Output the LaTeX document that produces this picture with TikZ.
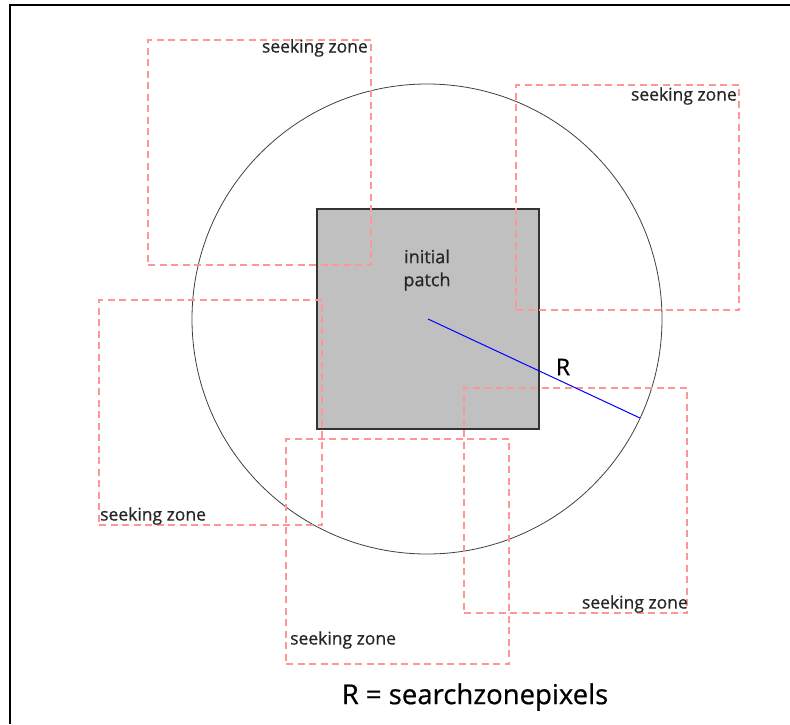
\documentclass[tikz,border=0pt]{standalone}
\usepackage{fontspec}
\setmainfont[FakeBold=0.6]{Open Sans}
\begin{document}
\begin{tikzpicture}[x=1pt,y=-1pt,
  zone/.style={draw=zonered, dash pattern=on 7pt off 4.5pt, line width=1.15pt,
    inner sep=0pt, outer sep=0pt, anchor=north west,
    minimum width=223pt, minimum height=225pt},
  zonelabel/.style={font=\fontsize{17.5}{20}\selectfont, text=black!85, inner sep=0pt},
  patch/.style={draw=black!80, fill=patchgray, line width=1.8pt,
    inner sep=0pt, outer sep=0pt, anchor=north west,
    minimum width=222pt, minimum height=220pt}]
\definecolor{zonered}{RGB}{255,150,150}
\definecolor{patchgray}{RGB}{192,192,192}
\useasboundingbox (0,0) rectangle (790,724);
% frame (top and left edges)
\draw[line width=2pt] (790,5) -- (10,5) -- (10,724);
% search circle
\draw[black!75, line width=0.8pt] (427,319) circle [radius=235];
% initial patch
\node[patch] (p) at (317,209) {};
\node[font=\fontsize{18}{23}\selectfont, align=center, text=black!85] (pl) at (427,270) {initial\\patch};
% seeking zones
\node[zone] (z1) at (148,40) {};
\node[zone] (z2) at (516,85) {};
\node[zone] (z3) at (99,300) {};
\node[zone] (z4) at (464,388) {};
\node[zone] (z5) at (286,439) {};
\node[zonelabel, anchor=east] (l1) at (368,48) {seeking zone};
\node[zonelabel, anchor=east] (l2) at (737,96) {seeking zone};
\node[zonelabel, anchor=west] (l3) at (100,516) {seeking zone};
\node[zonelabel, anchor=east] (l4) at (688,604) {seeking zone};
\node[zonelabel, anchor=west] (l5) at (290,640) {seeking zone};
% radius
\coordinate (c) at (428,319);
\coordinate (e) at (640,418);
\draw[blue, line width=1pt] (c) -- (e);
\node[font=\fontsize{23}{26}\selectfont, inner sep=0pt] (r) at (563,367) {R};
% caption
\node[font=\fontsize{27.5}{32}\selectfont, inner sep=0pt] (cap) at (475,697) {R = searchzonepixels};
\end{tikzpicture}
\end{document}
